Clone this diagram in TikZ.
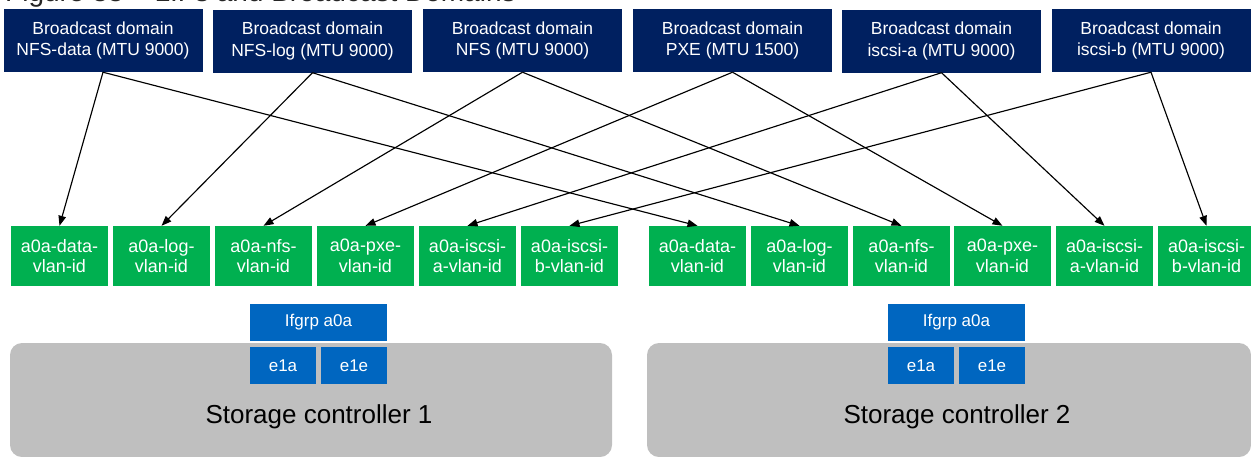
\documentclass[tikz,border=0pt]{standalone}
\usepackage{fontspec}
\setmainfont{Liberation Sans}
\usetikzlibrary{arrows.meta}
\definecolor{bdnavy}{RGB}{0,32,96}
\definecolor{vlangreen}{RGB}{0,176,80}
\definecolor{portblue}{RGB}{0,102,192}
\definecolor{ctrlgray}{RGB}{191,191,191}
\tikzstyle{bdbox} = [fill=bdnavy, text=white, inner sep=0pt, minimum width=199pt, minimum height=63pt, align=center, font=\fontsize{17.5}{21.5}\selectfont]
\tikzstyle{vlanbox} = [fill=vlangreen, text=white, inner sep=0pt, minimum width=97pt, minimum height=60pt, align=center, font=\fontsize{18}{20.5}\selectfont]
\tikzstyle{portbox} = [fill=portblue, text=white, inner sep=0pt, minimum height=37pt, font=\fontsize{17}{20}\selectfont]
\tikzstyle{ctrlbox} = [fill=ctrlgray, inner sep=0pt, rounded corners=12pt, minimum height=114pt]
\tikzstyle{arrow} = [line width=1.15pt, -{Triangle[length=10pt,width=7.5pt]}]

\begin{document}
\begin{tikzpicture}[x=1pt,y=1pt,yscale=-1]
\useasboundingbox (0,0) rectangle (1251,456);
\clip (0,0) rectangle (1251,456);

% Title Node (cut off at the top)
\node (title) [anchor=base west, inner sep=0pt, font=\fontsize{28}{30}\selectfont, text=black!85] at (5,1.5) {Figure 38 – LIFs and Broadcast Domains};

%Shape: Rounded Rectangle
\node (ctrlA) [ctrlbox, minimum width=602pt] at (311,400) {};
%Shape: Rounded Rectangle
\node (ctrlB) [ctrlbox, minimum width=604pt] at (949,400) {};

% Broadcast domains
\node (nfsdata) [bdbox] at (103,40.5) {Broadcast domain\\NFS-data (MTU 9000)};
\node (nfslog) [bdbox] at (312.5,41) {Broadcast domain\\NFS-log (MTU 9000)};
\node (nfs) [bdbox] at (522.5,40.5) {Broadcast domain\\NFS (MTU 9000)};
\node (pxe) [bdbox] at (732.5,40.5) {Broadcast domain\\PXE (MTU 1500)};
\node (iscsia) [bdbox] at (941.5,41) {Broadcast domain\\iscsi-a (MTU 9000)};
\node (iscsib) [bdbox] at (1151,40.5) {Broadcast domain\\iscsi-b (MTU 9000)};

% VLAN ports, controller 1
\node (ldata) [vlanbox] at (59.5,256) {a0a-data-\\vlan-id};
\node (llog) [vlanbox] at (161.5,256) {a0a-log-\\vlan-id};
\node (lnfs) [vlanbox] at (263.5,256) {a0a-nfs-\\vlan-id};
\node (lpxe) [vlanbox] at (365.5,256) {a0a-pxe-\\vlan-id};
\node (liscsia) [vlanbox] at (467.5,256) {a0a-iscsi-\\a-vlan-id};
\node (liscsib) [vlanbox] at (569.5,256) {a0a-iscsi-\\b-vlan-id};

% VLAN ports, controller 2
\node (rdata) [vlanbox] at (697.5,256) {a0a-data-\\vlan-id};
\node (rlog) [vlanbox] at (799.5,256) {a0a-log-\\vlan-id};
\node (rnfs) [vlanbox] at (901.5,256) {a0a-nfs-\\vlan-id};
\node (rpxe) [vlanbox] at (1002.5,256) {a0a-pxe-\\vlan-id};
\node (riscsia) [vlanbox] at (1104.5,256) {a0a-iscsi-\\a-vlan-id};
\node (riscsib) [vlanbox] at (1206.5,256) {a0a-iscsi-\\b-vlan-id};

% Interface groups and physical ports
\node (ifgrpA) [portbox, minimum width=137pt] at (318.5,322.5) {Ifgrp a0a};
\node (e1aA) [portbox, minimum width=66pt] at (283,365.5) {e1a};
\node (e1eA) [portbox, minimum width=66pt] at (354,365.5) {e1e};
\node (ifgrpB) [portbox, minimum width=137pt] at (956.5,322.5) {Ifgrp a0a};
\node (e1aB) [portbox, minimum width=66pt] at (921,365.5) {e1a};
\node (e1eB) [portbox, minimum width=66pt] at (992,365.5) {e1e};

% Text Node
\node (ctrlAlabel) [anchor=base, inner sep=0pt, font=\fontsize{26}{28}\selectfont] at (319,423) {Storage controller 1};
% Text Node
\node (ctrlBlabel) [anchor=base, inner sep=0pt, font=\fontsize{26}{28}\selectfont] at (957,423) {Storage controller 2};

%Straight Lines
\draw [arrow] (nfsdata.south) -- (ldata.north);
\draw [arrow] (nfsdata.south) -- (rdata.north);
\draw [arrow] (nfslog.south) -- (llog.north);
\draw [arrow] (nfslog.south) -- (rlog.north);
\draw [arrow] (nfs.south) -- (lnfs.north);
\draw [arrow] (nfs.south) -- (rnfs.north);
\draw [arrow] (pxe.south) -- (lpxe.north);
\draw [arrow] (pxe.south) -- (rpxe.north);
\draw [arrow] (iscsia.south) -- (liscsia.north);
\draw [arrow] (iscsia.south) -- (riscsia.north);
\draw [arrow] (iscsib.south) -- (liscsib.north);
\draw [arrow] (iscsib.south) -- (riscsib.north);

\end{tikzpicture}
\end{document}
